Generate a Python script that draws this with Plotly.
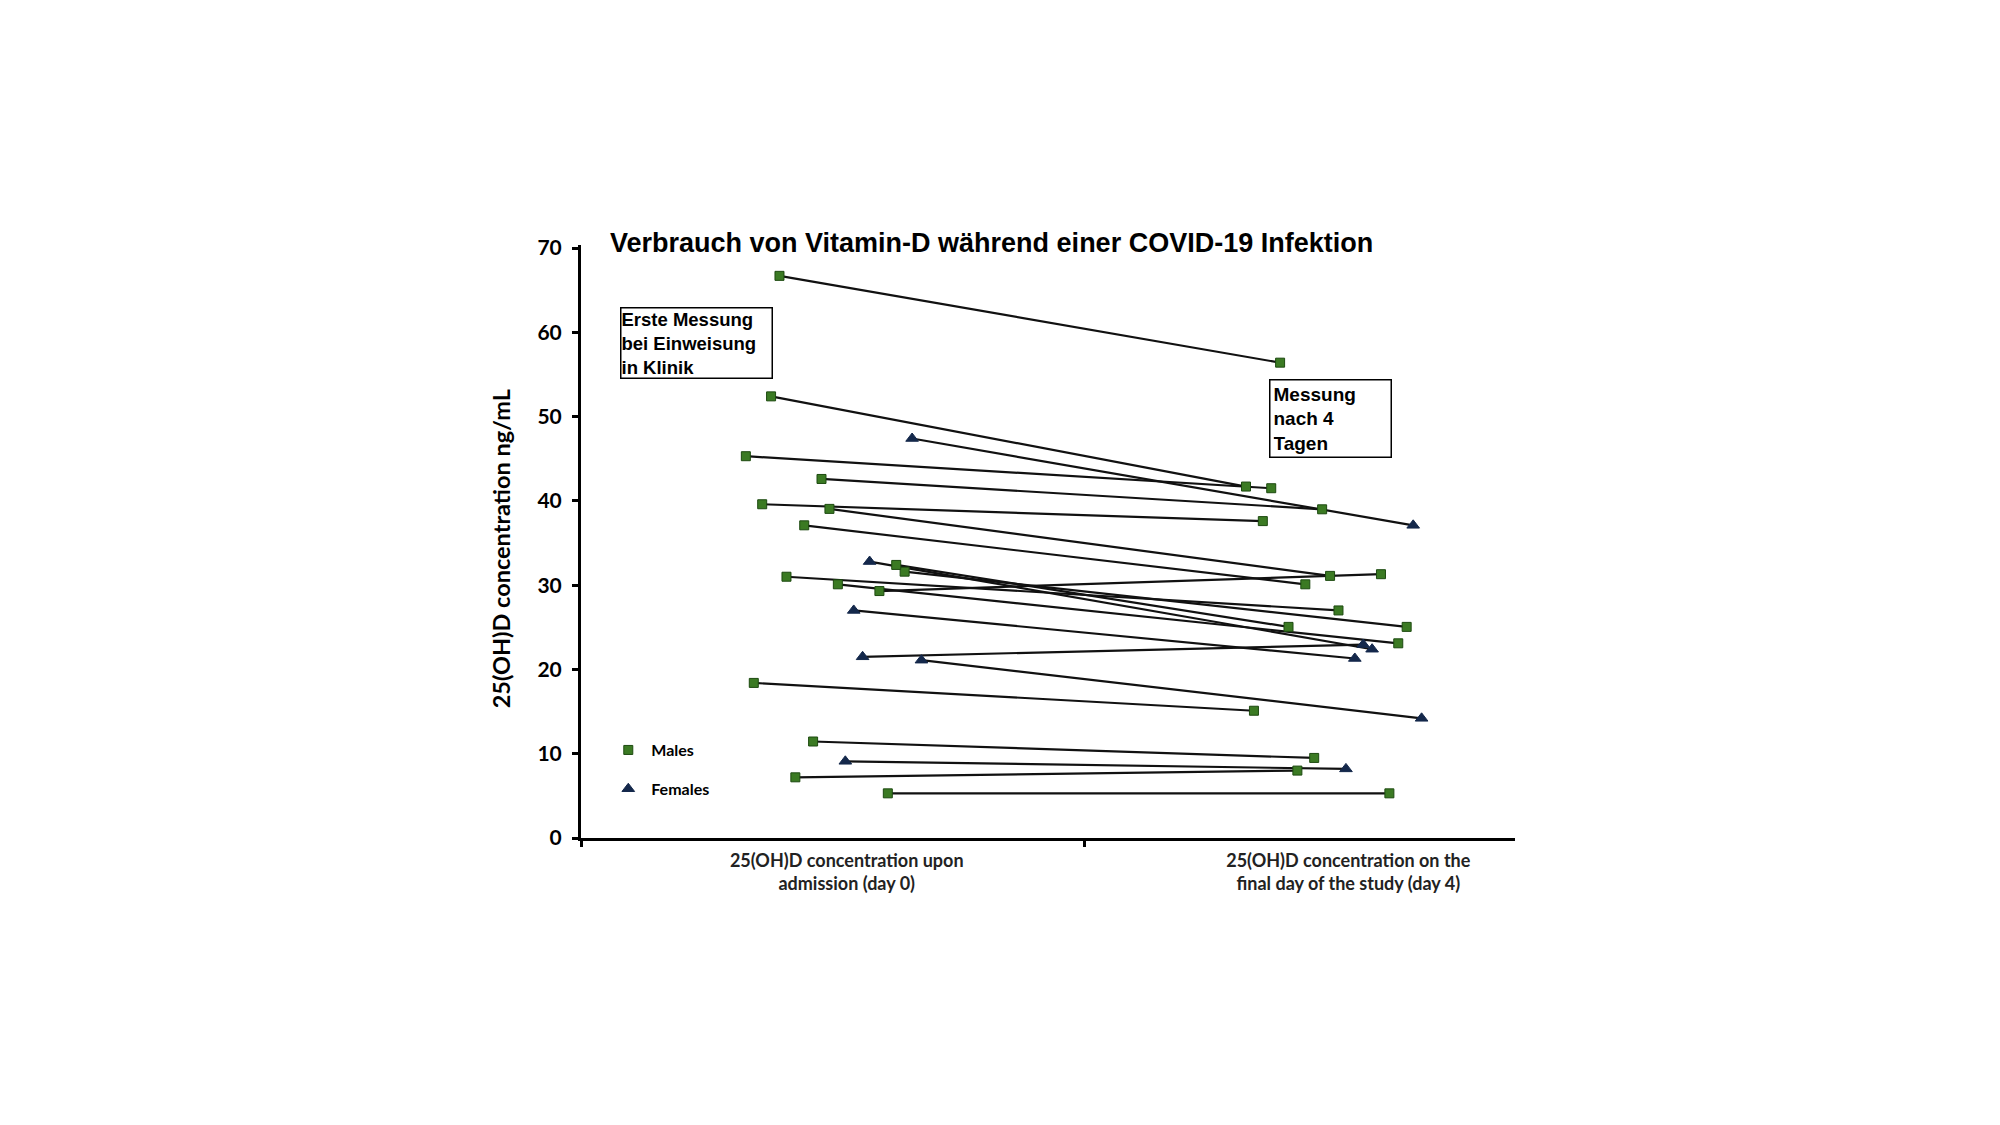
import plotly.graph_objects as go

# day 0 -> day 4 values (ng/mL)
male_day0 = [66.7, 52.4, 45.3, 42.6, 39.6, 39.05, 37.1, 29.3, 31.0, 31.6, 32.4, 30.1, 18.4, 11.45, 7.2, 5.3]
male_day4 = [56.4, 41.7, 41.5, 39.0, 37.6, 31.1, 30.1, 31.3, 27.0, 25.05, 25.05, 23.1, 15.1, 9.5, 8.0, 5.3]
female_day0 = [47.4, 32.8, 27.0, 21.5, 21.1, 9.1]
female_day4 = [37.1, 22.4, 21.3, 22.95, 14.2, 8.2]

# horizontal scatter of each point (x axis runs 0..2)
male_x0 = [0.425, 0.407, 0.353, 0.515, 0.388, 0.532, 0.478, 0.639, 0.440, 0.693, 0.675, 0.550, 0.370, 0.497, 0.459, 0.657]
male_x4 = [1.497, 1.424, 1.478, 1.587, 1.460, 1.604, 1.551, 1.713, 1.622, 1.768, 1.515, 1.750, 1.441, 1.570, 1.534, 1.731]
female_x0 = [0.709, 0.618, 0.584, 0.603, 0.729, 0.566]
female_x4 = [1.782, 1.694, 1.657, 1.675, 1.800, 1.638]

cat_pos = [0.569, 1.643]
cat_labels = ["25(OH)D concentration upon<br>admission (day 0)",
              "25(OH)D concentration on the<br>final day of the study (day 4)"]
y_ticks = [0, 10, 20, 30, 40, 50, 60, 70]

BOLD = "Liberation Sans, Arial, sans-serif"
CAL = "Liberation Sans Narrow, Lato, sans-serif"

# connecting lines
lx, ly = [], []
for xs0, xs4, ys0, ys4 in [(male_x0, male_x4, male_day0, male_day4),
                           (female_x0, female_x4, female_day0, female_day4)]:
    for a, b, c, d in zip(xs0, xs4, ys0, ys4):
        lx += [a, b, None]
        ly += [c, d, None]

fig = go.Figure()
fig.add_trace(go.Scatter(x=lx, y=ly, mode="lines", line=dict(color="#111111", width=2.2),
                         showlegend=False, hoverinfo="skip"))
fig.add_trace(go.Scatter(x=male_x0 + male_x4, y=male_day0 + male_day4, mode="markers", name="Males",
                         legendgroup="m",
                         marker=dict(symbol="square", size=9, color="#3b7a23",
                                     line=dict(color="#1d4a10", width=1))))
fig.add_trace(go.Scatter(x=female_x0 + female_x4, y=female_day0 + female_day4, mode="markers", name="Females",
                         legendgroup="f",
                         marker=dict(symbol="triangle-up", size=11, color="#14284b",
                                     line=dict(color="#14284b", width=1))))

fig.update_layout(
    width=2000, height=1125,
    paper_bgcolor="white", plot_bgcolor="white",
    margin=dict(l=573, r=493, t=237, b=295),
    xaxis=dict(range=[0, 2], showgrid=False, zeroline=False, showline=True,
               linecolor="black", linewidth=3, tickmode="array", tickvals=cat_pos,
               ticktext=cat_labels, ticks="", ticklabelstandoff=4,
               tickfont=dict(family=CAL, size=18, color="#222222", weight="bold"),
               minor=dict(tickmode="array", tickvals=[0, 1.079], ticks="outside",
                          ticklen=6, tickwidth=3, tickcolor="black")),
    yaxis=dict(range=[0, 70.36], showgrid=False, zeroline=False, showline=True,
               linecolor="black", linewidth=3, tickmode="array", tickvals=y_ticks,
               ticks="outside", ticklen=6, tickwidth=3, tickcolor="black",
               ticklabelstandoff=6,
               tickfont=dict(family="Lato, sans-serif", size=21, color="black", weight="bold")),
    legend=dict(x=0.026, y=0.177, xanchor="left", yanchor="top", bgcolor="rgba(0,0,0,0)",
                font=dict(family=CAL, size=16, color="black", weight="bold"),
                itemwidth=36, tracegroupgap=15, traceorder="grouped"),
    showlegend=True,
)

fig.add_annotation(text="25(OH)D concentration ng/mL", textangle=-90,
                   xref="paper", yref="paper", x=-0.086, y=0.488,
                   xanchor="center", yanchor="middle", showarrow=False,
                   font=dict(family="Lato, sans-serif", size=23.5, color="black", weight="bold"))

fig.add_annotation(text="Verbrauch von Vitamin-D während einer COVID-19 Infektion",
                   xref="paper", yref="paper", x=(991 - 581) / 934, y=1 + (245 - 243) / 593,
                   xanchor="center", yanchor="middle", showarrow=False,
                   font=dict(family=BOLD, size=27, color="black", weight="bold"))

fig.add_annotation(text="Erste Messung<br>bei Einweisung<br>in Klinik",
                   xref="paper", yref="paper", x=(620 - 581) / 934, y=(838 - 307) / 593,
                   xanchor="left", yanchor="top", align="left", showarrow=False,
                   bordercolor="black", borderwidth=1.5, borderpad=0, width=150,
                   font=dict(family=BOLD, size=18.5, color="black", weight="bold"))

fig.add_annotation(text="Messung<br>nach 4<br>Tagen",
                   xref="paper", yref="paper", x=(1269 - 581) / 934, y=(838 - 379) / 593,
                   xanchor="left", yanchor="top", align="left", showarrow=False,
                   bordercolor="black", borderwidth=1.5, borderpad=3, width=114,
                   font=dict(family=BOLD, size=19, color="black", weight="bold"))

fig.write_html("out.html")
